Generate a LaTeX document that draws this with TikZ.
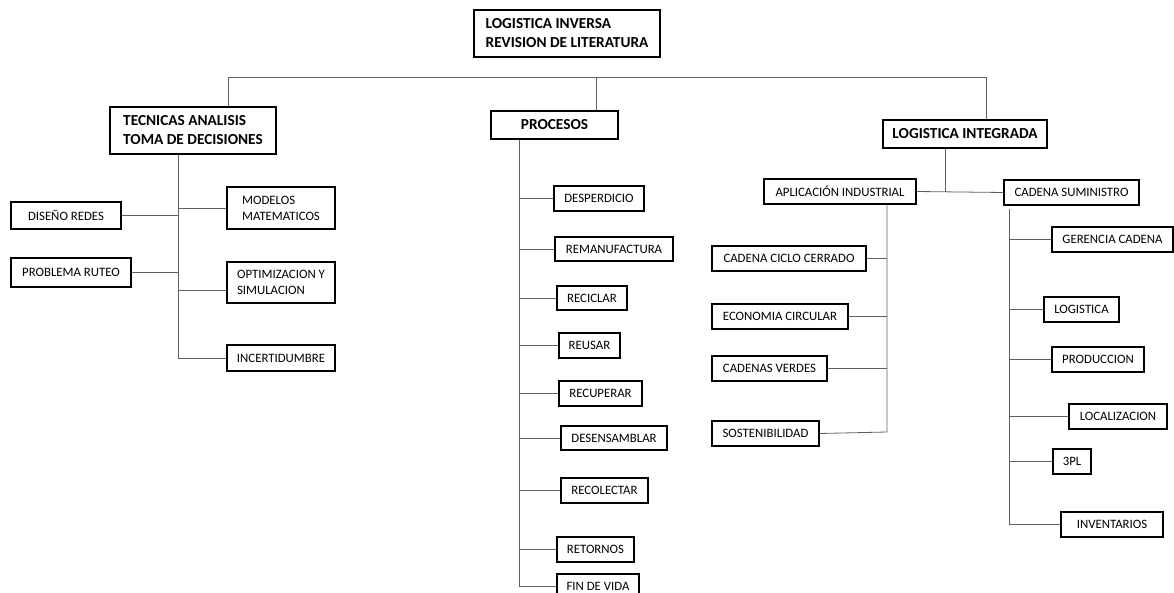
\documentclass[tikz,border=0pt]{standalone}
\usepackage{fontspec}
\setmainfont{Carlito}
\usepackage{tikz}
\usepackage{xcolor}
\usetikzlibrary{positioning,calc}
\definecolor{linegray}{RGB}{95,95,95}

\begin{document}
\begin{tikzpicture}[x=1pt, y=-1pt,
    box/.style={draw=black, line width=1.1pt, inner sep=2pt, align=left,
        font=\fontsize{12.8}{16}\selectfont},
    headbox/.style={box, font=\fontsize{15.3}{19}\selectfont\bfseries},
    conn/.style={draw=linegray, line width=0.8pt}]
    \useasboundingbox (0,0) rectangle (1174,593);

    % Root and main branches
    \node[headbox, minimum width=186pt, minimum height=47pt] (root) at (567,33.5) {LOGISTICA INVERSA\\REVISION DE LITERATURA};
    \node[headbox, minimum width=166pt, minimum height=47pt] (tec) at (193,130.5) {TECNICAS ANALISIS\\TOMA DE DECISIONES};
    \node[headbox, minimum width=127pt, minimum height=28pt] (proc) at (554.5,125) {PROCESOS};
    \node[headbox, minimum width=164pt, minimum height=28pt] (logint) at (965,134) {LOGISTICA INTEGRADA};

    \coordinate (bus-l) at (228,77);
    \coordinate (bus-m) at (596,77);
    \coordinate (bus-r) at (986,77);
    \draw[conn] (bus-l) -- (bus-r);
    \draw[conn] (bus-l) -- (bus-l |- tec.north);
    \draw[conn] (bus-m) -- (bus-m |- proc.north);
    \draw[conn] (bus-r) -- (bus-r |- logint.north);

    % Tecnicas analisis
    \node[box, minimum width=110pt, minimum height=27pt] (diseno) at (66,215.5) {DISEÑO REDES};
    \node[box, minimum width=120pt, minimum height=29pt] (ruteo) at (71,272.5) {PROBLEMA RUTEO};
    \node[box, minimum width=108pt, minimum height=42pt] (modelos) at (281,208) {MODELOS\\MATEMATICOS};
    \node[box, minimum width=108pt, minimum height=41pt] (optim) at (281,282.5) {OPTIMIZACION Y\\SIMULACION};
    \node[box, minimum width=108pt, minimum height=26pt] (incert) at (281,358) {INCERTIDUMBRE};

    \coordinate (tec-end) at (178,358);
    \draw[conn] (tec.south -| tec-end) -- (tec-end) -- (incert.west);
    \draw[conn] (diseno.east) -- (diseno.east -| tec-end);
    \draw[conn] (ruteo.east) -- (ruteo.east -| tec-end);
    \draw[conn] (modelos.west) -- (modelos.west -| tec-end);
    \draw[conn] ([yshift=-8pt]optim.west) -- ([yshift=-8pt]optim.west -| tec-end);

    % Procesos
    \node[box, minimum width=90pt, minimum height=25pt] (desp) at (599,198.5) {DESPERDICIO};
    \node[box, minimum width=118pt, minimum height=24pt] (reman) at (614,249) {REMANUFACTURA};
    \node[box, minimum width=70pt, minimum height=24pt] (recic) at (592,298) {RECICLAR};
    \node[box, minimum width=61pt, minimum height=25pt] (reusar) at (589.5,345.5) {REUSAR};
    \node[box, minimum width=83pt, minimum height=25pt] (recup) at (600.5,393.5) {RECUPERAR};
    \node[box, minimum width=106pt, minimum height=24pt] (desens) at (614,438) {DESENSAMBLAR};
    \node[box, minimum width=87pt, minimum height=25pt] (recol) at (604.5,490.5) {RECOLECTAR};
    \node[box, minimum width=77pt, minimum height=25pt] (retorn) at (595.5,549.5) {RETORNOS};
    \node[box, minimum width=82pt, minimum height=25pt] (finvida) at (598,586.5) {FIN DE VIDA};

    \coordinate (proc-end) at (519,586.5);
    \draw[conn] (proc.south -| proc-end) -- (proc-end) -- (finvida.west);
    \draw[conn] (desp.west) -- (desp.west -| proc-end);
    \draw[conn] (reman.west) -- (reman.west -| proc-end);
    \draw[conn] (recic.west) -- (recic.west -| proc-end);
    \draw[conn] (reusar.west) -- (reusar.west -| proc-end);
    \draw[conn] (recup.west) -- (recup.west -| proc-end);
    \draw[conn] (desens.west) -- (desens.west -| proc-end);
    \draw[conn] (recol.west) -- (recol.west -| proc-end);
    \draw[conn] (retorn.west) -- (retorn.west -| proc-end);

    % Logistica integrada
    \node[box, minimum width=152pt, minimum height=25pt] (aplic) at (840,191.5) {APLICACIÓN INDUSTRIAL};
    \node[box, minimum width=135pt, minimum height=25pt] (cadsum) at (1071.5,192.5) {CADENA SUMINISTRO};
    \coordinate (join) at ($(aplic.east)!0.33!(cadsum.west)$);
    \draw[conn] (aplic.east) -- (cadsum.west);
    \draw[conn] (join |- logint.south) -- (join);

    \node[box, minimum width=154pt, minimum height=25pt] (ciclo) at (789,258.5) {CADENA CICLO CERRADO};
    \node[box, minimum width=136pt, minimum height=25pt] (econ) at (780,316.5) {ECONOMIA CIRCULAR};
    \node[box, minimum width=115pt, minimum height=25pt] (verdes) at (769.5,368.5) {CADENAS VERDES};
    \node[box, minimum width=107pt, minimum height=25pt] (sosten) at (765.5,433.5) {SOSTENIBILIDAD};

    \coordinate (ap-end) at (887,432);
    \draw[conn] (aplic.south -| ap-end) -- (ap-end) -- (sosten.east);
    \draw[conn] (ciclo.east) -- (ciclo.east -| ap-end);
    \draw[conn] (econ.east) -- (econ.east -| ap-end);
    \draw[conn] (verdes.east) -- (verdes.east -| ap-end);

    \node[box, minimum width=121pt, minimum height=25pt] (gerencia) at (1112.5,239.5) {GERENCIA CADENA};
    \node[box, minimum width=75pt, minimum height=25pt] (logis) at (1081.5,309.5) {LOGISTICA};
    \node[box, minimum width=92pt, minimum height=25pt] (produc) at (1098,359.5) {PRODUCCION};
    \node[box, minimum width=98pt, minimum height=25pt] (localiz) at (1118,416.5) {LOCALIZACION};
    \node[box, minimum width=38pt, minimum height=25pt] (tpl) at (1072,461.5) {3PL};
    \node[box, minimum width=102pt, minimum height=25pt] (invent) at (1112,524.5) {INVENTARIOS};

    \coordinate (cs-end) at (1009,524.5);
    \draw[conn] ([yshift=-3pt]cadsum.south -| cs-end) -- (cs-end) -- (invent.west);
    \draw[conn] (gerencia.west) -- (gerencia.west -| cs-end);
    \draw[conn] (logis.west) -- (logis.west -| cs-end);
    \draw[conn] (produc.west) -- (produc.west -| cs-end);
    \draw[conn] (localiz.west) -- (localiz.west -| cs-end);
    \draw[conn] (tpl.west) -- (tpl.west -| cs-end);
\end{tikzpicture}
\end{document}
